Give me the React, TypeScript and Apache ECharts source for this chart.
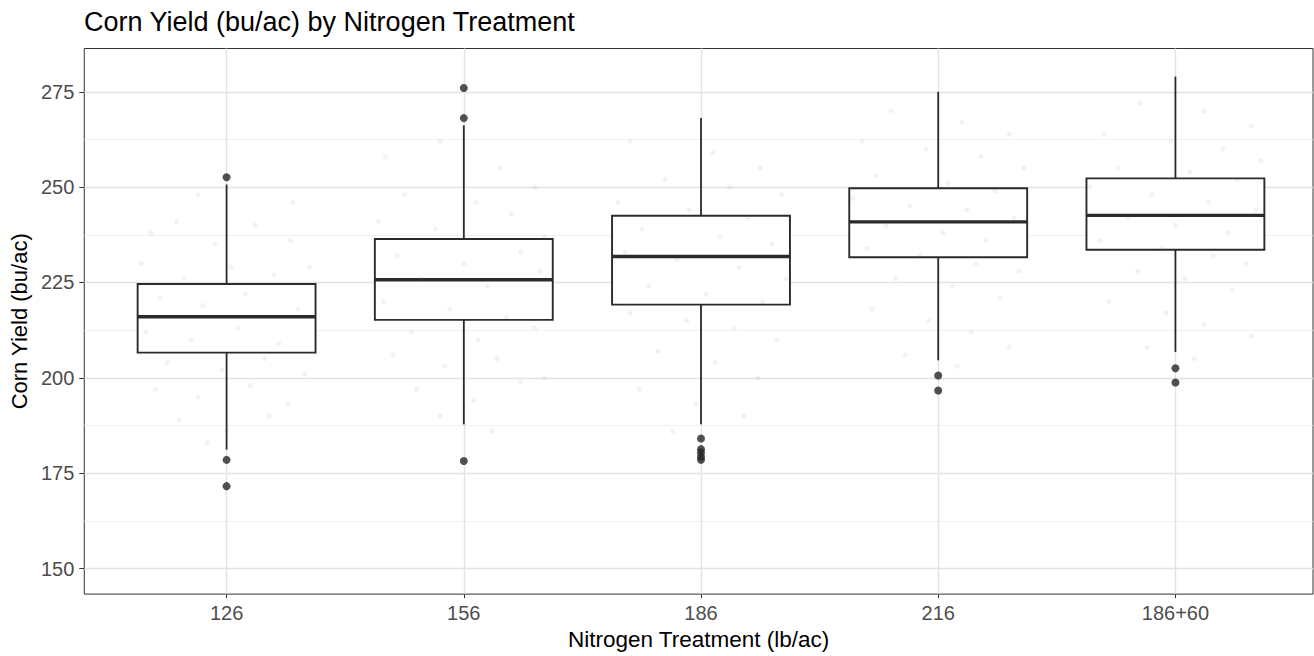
import React, { useEffect, useRef } from "react";
import * as echarts from "echarts";

const categories = ["126", "156", "186", "216", "186+60"];

// [lower whisker, Q1, median, Q3, upper whisker]
const boxLow = [181.2, 187.8, 187.8, 204.6, 206.8];
const boxQ1 = [206.6, 215.2, 219.2, 231.6, 233.6];
const boxMed = [216.0, 225.7, 231.8, 240.9, 242.6];
const boxQ3 = [224.6, 236.4, 242.5, 249.7, 252.3];
const boxHigh = [250.7, 266.2, 268.1, 275.0, 279.0];

const outliers126 = [252.6, 178.5, 171.6];
const outliers156 = [276.0, 268.1, 178.2];
const outliers186 = [184.1, 181.3, 180.4, 179.3, 178.5];
const outliers216 = [200.6, 196.7];
const outliers246 = [202.5, 198.8];

// jittered raw observations: [horizontal jitter offset, yield]
const jitter126 = [[-0.32,238],[-0.21,241],[-0.05,235],[0.12,240],[0.27,236],[0.35,229],[-0.36,230],[-0.18,226],[0.02,229],[0.2,227],[-0.28,221],[-0.1,219],[0.08,222],[0.3,218],[-0.34,212],[-0.15,210],[0.05,213],[0.22,209],[-0.25,204],[-0.02,202],[0.16,205],[0.33,201],[-0.3,197],[-0.12,195],[0.1,198],[0.26,193],[-0.2,189],[0.0,186],[0.18,190],[-0.08,183],[0.28,246],[-0.12,248]];
const jitter156 = [[-0.33,258],[-0.1,262],[0.15,255],[0.3,250],[-0.25,248],[0.05,246],[-0.36,241],[-0.12,239],[0.2,243],[0.34,237],[-0.28,232],[0.0,230],[0.24,233],[-0.18,226],[0.1,224],[0.32,228],[-0.34,220],[-0.06,218],[0.18,216],[-0.22,212],[0.06,210],[0.3,213],[-0.3,206],[-0.08,203],[0.14,205],[0.34,200],[-0.2,197],[0.04,194],[0.24,199],[-0.1,190],[0.12,186]];
const jitter186 = [[-0.3,262],[0.05,259],[0.25,255],[-0.15,252],[0.12,250],[0.34,248],[-0.35,246],[-0.05,244],[0.2,242],[-0.25,239],[0.08,237],[0.3,235],[-0.32,233],[-0.1,231],[0.16,229],[0.36,226],[-0.22,224],[0.02,222],[0.26,220],[-0.3,217],[-0.06,215],[0.14,213],[0.32,210],[-0.18,207],[0.06,204],[0.24,200],[-0.26,197],[-0.02,193],[0.18,190],[-0.12,186]];
const jitter216 = [[-0.2,270],[0.1,267],[0.3,264],[-0.32,262],[-0.05,260],[0.18,258],[0.36,255],[-0.26,253],[0.04,251],[0.24,249],[-0.36,247],[-0.12,245],[0.12,244],[0.32,242],[-0.22,240],[0.02,238],[0.2,236],[-0.3,234],[-0.08,232],[0.16,230],[0.34,228],[-0.18,226],[0.06,224],[0.26,221],[-0.28,218],[-0.04,215],[0.14,212],[0.3,208],[-0.14,206],[0.08,203]];
const jitter246 = [[-0.15,272],[0.12,270],[0.32,266],[-0.3,264],[-0.02,262],[0.2,260],[0.36,257],[-0.24,255],[0.06,254],[0.26,252],[-0.36,250],[-0.1,248],[0.14,246],[0.34,244],[-0.2,242],[0.0,240],[0.22,238],[-0.32,236],[-0.06,234],[0.16,232],[0.3,230],[-0.16,228],[0.04,226],[0.24,223],[-0.28,220],[-0.04,217],[0.12,214],[0.32,211],[-0.12,208],[0.08,205]];

const yMajorTicks = [150, 175, 200, 225, 250, 275];
const yMinorTicks = [162.5, 187.5, 212.5, 237.5, 262.5];
const xTicks = [0, 1, 2, 3, 4];

const FONT = "Liberation Sans, Arial, Helvetica, sans-serif";

export default function App() {
  const ref = useRef<HTMLDivElement>(null);

  useEffect(() => {
    document.body.style.margin = "0";
    if (!ref.current) return;
    const chart = echarts.init(ref.current, null, { renderer: "svg" });

    const boxData = categories.map((_, i) => [i, boxLow[i], boxQ1[i], boxMed[i], boxQ3[i], boxHigh[i]]);
    const outlierGroups = [outliers126, outliers156, outliers186, outliers216, outliers246];
    const outlierData: number[][] = [];
    outlierGroups.forEach((g, i) => g.forEach((v) => outlierData.push([i, v])));
    const jitterGroups = [jitter126, jitter156, jitter186, jitter216, jitter246];
    const jitterData: number[][] = [];
    jitterGroups.forEach((g, i) => g.forEach((p) => jitterData.push([i + p[0], p[1]])));

    const gridLines: any[] = [
      ...yMajorTicks.map((v) => ({ yAxis: v, lineStyle: { color: "#e3e3e3", width: 1.4, type: "solid" } })),
      ...yMinorTicks.map((v) => ({ yAxis: v, lineStyle: { color: "#eeeeee", width: 0.9, type: "solid" } })),
      ...xTicks.map((v) => ({ xAxis: v, lineStyle: { color: "#e3e3e3", width: 1.4, type: "solid" } })),
    ];

    const HALF = 0.375;
    const WHISKER_W = 1.8;

    chart.setOption({
      animation: false,
      backgroundColor: "#ffffff",
      textStyle: { fontFamily: FONT },
      title: {
        text: "Corn Yield (bu/ac) by Nitrogen Treatment",
        left: 84,
        top: 8,
        padding: 0,
        textStyle: { fontFamily: FONT, fontSize: 27, fontWeight: "normal", color: "#000000" },
      },
      grid: {
        left: 84,
        right: 1,
        top: 48.5,
        bottom: 59,
        show: true,
        borderColor: "#333333",
        borderWidth: 1,
        backgroundColor: "transparent",
        containLabel: false,
      },
      xAxis: {
        type: "value",
        position: "bottom",
        min: -0.6,
        max: 4.58,
        name: "Nitrogen Treatment (lb/ac)",
        nameLocation: "middle",
        nameGap: 32,
        nameTextStyle: { fontFamily: FONT, fontSize: 22.5, color: "#000000", verticalAlign: "top" },
        axisLine: { show: false, onZero: false },
        axisTick: { show: true, length: 4, customValues: xTicks, lineStyle: { color: "#333333", width: 1 } },
        axisLabel: {
          show: true,
          customValues: xTicks,
          margin: 9,
          fontFamily: FONT,
          fontSize: 20,
          color: "#4d4d4d",
          formatter: (v: number) => categories[Math.round(v)] ?? "",
        },
        splitLine: { show: false },
      },
      yAxis: {
        type: "value",
        position: "left",
        min: 143.3,
        max: 286.35,
        name: "Corn Yield (bu/ac)",
        nameLocation: "middle",
        nameGap: 51,
        nameRotate: 90,
        nameTextStyle: { fontFamily: FONT, fontSize: 22, color: "#000000" },
        axisLine: { show: false, onZero: false },
        axisTick: { show: true, length: 5, customValues: yMajorTicks, lineStyle: { color: "#333333", width: 1 } },
        axisLabel: {
          show: true,
          customValues: yMajorTicks,
          margin: 10,
          fontFamily: FONT,
          fontSize: 20,
          color: "#4d4d4d",
        },
        splitLine: { show: false },
      },
      series: [
        {
          type: "custom",
          name: "box",
          z: 3,
          encode: { x: 0, y: [1, 2, 3, 4, 5] },
          data: boxData,
          renderItem: (params: any, api: any) => {
            const x = api.value(0);
            const low = api.value(1);
            const q1 = api.value(2);
            const med = api.value(3);
            const q3 = api.value(4);
            const high = api.value(5);
            const pHigh = api.coord([x, high]);
            const pQ3 = api.coord([x, q3]);
            const pQ1 = api.coord([x, q1]);
            const pLow = api.coord([x, low]);
            const tl = api.coord([x - HALF, q3]);
            const br = api.coord([x + HALF, q1]);
            const mL = api.coord([x - HALF, med]);
            const mR = api.coord([x + HALF, med]);
            const stroke = "#2b2b2b";
            return {
              type: "group",
              children: [
                {
                  type: "rect",
                  shape: { x: pHigh[0] - WHISKER_W / 2, y: pHigh[1], width: WHISKER_W, height: pQ3[1] - pHigh[1] },
                  style: { fill: stroke },
                },
                {
                  type: "rect",
                  shape: { x: pQ1[0] - WHISKER_W / 2, y: pQ1[1], width: WHISKER_W, height: pLow[1] - pQ1[1] },
                  style: { fill: stroke },
                },
                {
                  type: "rect",
                  shape: { x: tl[0], y: tl[1], width: br[0] - tl[0], height: br[1] - tl[1] },
                  style: { fill: "#ffffff", stroke, lineWidth: 1.9 },
                },
                {
                  type: "line",
                  shape: { x1: mL[0], y1: mL[1], x2: mR[0], y2: mR[1] },
                  style: { stroke, lineWidth: 3.4 },
                },
              ],
            };
          },
        },
        {
          type: "scatter",
          name: "obs",
          z: 4,
          data: jitterData,
          symbolSize: 5,
          silent: true,
          itemStyle: { color: "rgba(120,120,120,0.12)" },
          markLine: {
            z: 0,
            silent: true,
            symbol: ["none", "none"],
            label: { show: false },
            animation: false,
            data: gridLines,
          },
        },
        {
          type: "scatter",
          name: "outliers",
          z: 5,
          data: outlierData,
          symbolSize: 8,
          itemStyle: { color: "#262626" },
        },
      ],
    });

    return () => chart.dispose();
  }, []);

  return <div ref={ref} style={{ width: 1314, height: 656 }} />;
}
